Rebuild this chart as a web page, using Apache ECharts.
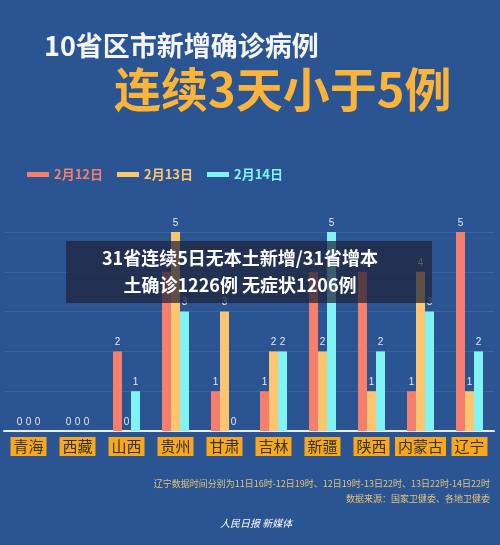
<!DOCTYPE html><html><head><meta charset="utf-8"><script src="https://cdn.jsdelivr.net/npm/echarts@6/dist/echarts.min.js"></script>
<style>body{margin:0;background:#2b5592}#c{width:500px;height:545px}</style></head><body><div id="c"></div><script>
const categories=['青海','西藏','山西','贵州','甘肃','吉林','新疆','陕西','内蒙古','辽宁'];
const seriesNames=['2月12日','2月13日','2月14日'];
const feb12=[0,0,2,4,1,1,4,4,1,5];
const feb13=[0,0,0,5,3,2,2,1,4,1];
const feb14=[0,0,1,3,0,2,5,2,3,2];
const colors=['#f57f6c','#fcc671','#80f4f4'];
const F='"Noto Sans CJK SC"';
const chart=echarts.init(document.getElementById('c'));
const data=[feb12,feb13,feb14];
chart.setOption({
backgroundColor:'#2b5592',
grid:{left:4,right:6,top:232,bottom:114},
legend:{left:22,top:163,itemWidth:22,itemHeight:5,itemGap:14,icon:'rect',
 data:seriesNames.map((n,i)=>({name:n,textStyle:{color:colors[i]}})),textStyle:{fontSize:13,fontWeight:'bold',fontFamily:F}},
xAxis:{type:'category',data:categories,axisTick:{show:false},axisLine:{lineStyle:{color:'#e8eef8',width:2}},
 axisLabel:{interval:0,margin:6,fontFamily:F,color:'#333',backgroundColor:'#f7a81c',padding:[2,3],fontSize:15}},
yAxis:{type:'value',min:0,max:5,interval:1,axisLabel:{show:false},splitLine:{lineStyle:{color:'rgba(255,255,255,0.08)'}}},
series:data.map((d,i)=>({name:seriesNames[i],type:'bar',data:d,barWidth:9,barGap:'0%',itemStyle:{color:colors[i]},
 label:{show:true,position:'top',color:'#e8e8e8',fontSize:10,distance:4}})),
graphic:[
 {type:'text',left:44,top:32,style:{text:'10省区市新增确诊病例',font:'bold 27px '+F,fill:'#f4f4f4',shadowColor:'rgba(0,0,0,0.4)',shadowBlur:4}},
 {type:'text',left:114,top:66,style:{text:'连续3天小于5例',font:'bold 47px '+F,fill:'#fbb43a',shadowColor:'rgba(0,0,0,0.4)',shadowBlur:4}},
 {type:'rect',shape:{x:66,y:241,width:366,height:62},style:{fill:'rgba(30,35,55,0.72)'},z:100},
 {type:'text',x:240,y:258,z:101,style:{text:'31省连续5日无本土新增/31省增本',font:'bold 18px '+F,fill:'#fff',align:'center',verticalAlign:'middle'}},
 {type:'text',x:240,y:285,z:101,style:{text:'土确诊1226例 无症状1206例',font:'bold 18px '+F,fill:'#fff',align:'center',verticalAlign:'middle'}},
 {type:'text',right:10,top:479,style:{text:'辽宁数据时间分别为11日16时-12日19时、12日19时-13日22时、13日22时-14日22时',font:'9px '+F,fill:'#e2c27a',align:'right'}},
 {type:'text',right:10,top:494,style:{text:'数据来源：国家卫健委、各地卫健委',font:'9px '+F,fill:'#e2c27a',align:'right'}},
 {type:'text',left:220,top:518,style:{text:'人民日报 新媒体',font:'italic 10px '+F,fill:'#ffffff'}}
]});
</script></body></html>
